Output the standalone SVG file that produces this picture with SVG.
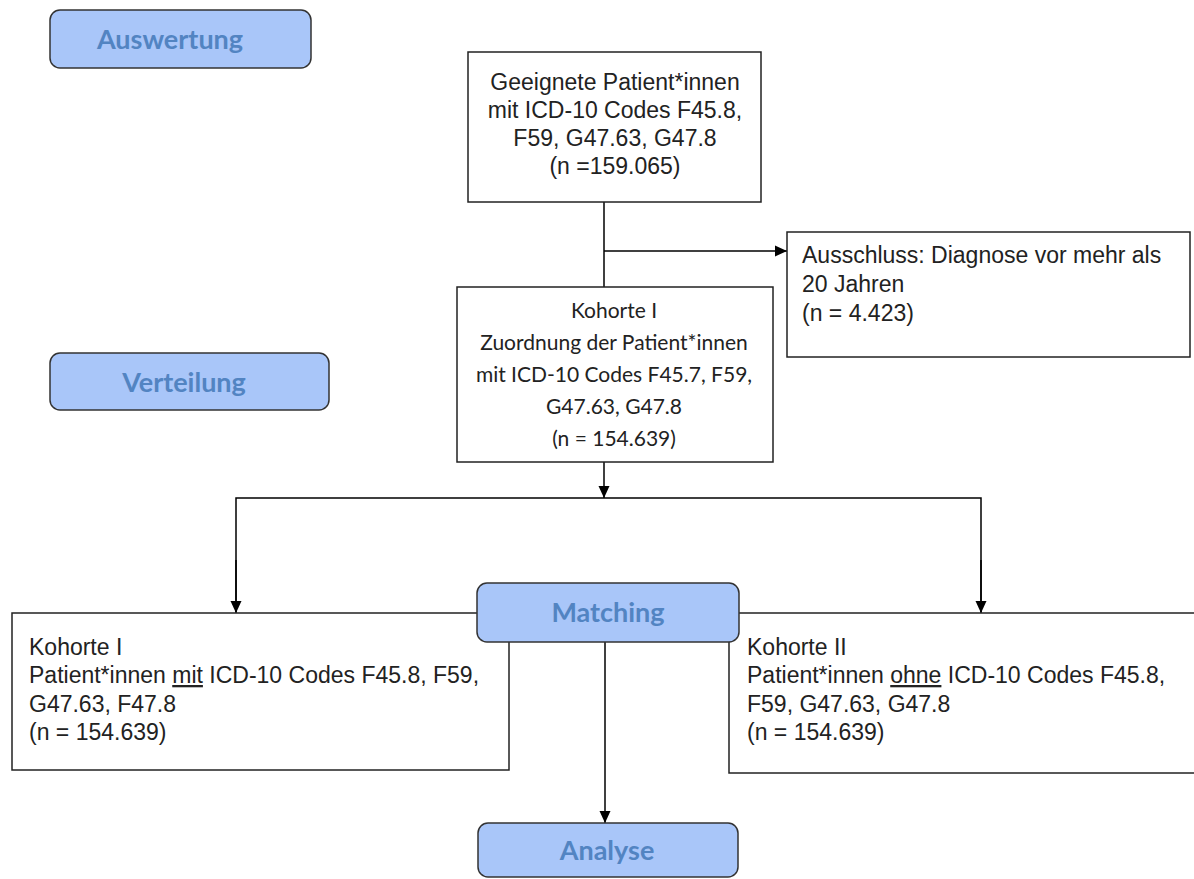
<svg xmlns="http://www.w3.org/2000/svg" width="1194" height="879" viewBox="0 0 1194 879">
<defs>
<marker id="ah" markerWidth="12" markerHeight="12" refX="12" refY="6" orient="auto" markerUnits="userSpaceOnUse">
<path d="M0,0.5 L12,6 L0,11.5 Z" fill="#000"/>
</marker>
<style>
.box{fill:#fff;stroke:#222;stroke-width:1.5}
.stage{fill:#a9c6f9;stroke:#333;stroke-width:1.5}
.stxt{font-family:Lato,"Liberation Sans",sans-serif;font-weight:bold;font-size:27px;fill:#5284c2;text-anchor:middle}
.t{font-family:"Liberation Sans",Arial,sans-serif;font-size:23px;fill:#222}
.c{text-anchor:middle}
.k{font-family:Lato,"Liberation Sans",sans-serif;font-size:21px;fill:#222;text-anchor:middle}
.ln{fill:none;stroke:#000;stroke-width:1.5}
</style>
</defs>
<rect width="1194" height="879" fill="#fff"/>

<g id="connectors">
<line class="ln" x1="604" y1="202" x2="604" y2="287"/>
<line class="ln" x1="604" y1="251" x2="787" y2="251" marker-end="url(#ah)"/>
<line class="ln" x1="604" y1="462" x2="604" y2="498" marker-end="url(#ah)"/>
<polyline class="ln" points="236,612 236,498 981,498 981,612"/>
<line class="ln" x1="236" y1="560" x2="236" y2="613" marker-end="url(#ah)"/>
<line class="ln" x1="981" y1="560" x2="981" y2="613" marker-end="url(#ah)"/>
<line class="ln" x1="605" y1="642" x2="605" y2="823" marker-end="url(#ah)"/>
</g>

<g id="auswertung">
<rect class="stage" x="50" y="10" width="261" height="58" rx="10"/>
<text class="stxt" x="170" y="49">Auswertung</text>
</g>

<g id="verteilung">
<rect class="stage" x="50" y="353" width="279" height="57" rx="10"/>
<text class="stxt" x="184" y="392">Verteilung</text>
</g>

<g id="geeignete">
<rect class="box" x="468" y="52" width="293" height="150"/>
<text class="t c" x="615" y="90">Geeignete Patient*innen</text>
<text class="t c" x="615" y="118">mit ICD-10 Codes F45.8,</text>
<text class="t c" x="615" y="146">F59, G47.63, G47.8</text>
<text class="t c" x="615" y="174">(n =159.065)</text>
</g>

<g id="ausschluss">
<rect class="box" x="787" y="232" width="403" height="125"/>
<text class="t" x="802" y="263">Ausschluss: Diagnose vor mehr als</text>
<text class="t" x="802" y="292">20 Jahren</text>
<text class="t" x="802" y="321">(n = 4.423)</text>
</g>

<g id="kohorte-zuordnung">
<rect class="box" x="457" y="287" width="316" height="175"/>
<text class="k" x="614" y="318">Kohorte I</text>
<text class="k" x="614" y="350">Zuordnung der Patient*innen</text>
<text class="k" x="614" y="382">mit ICD-10 Codes F45.7, F59,</text>
<text class="k" x="614" y="414">G47.63, G47.8</text>
<text class="k" x="614" y="446">(n = 154.639)</text>
</g>

<g id="kohorte1">
<rect class="box" x="12" y="613" width="497" height="157"/>
<text class="t" x="29" y="655">Kohorte I</text>
<text class="t" x="29" y="683">Patient*innen <tspan text-decoration="underline">mit</tspan> ICD-10 Codes F45.8, F59,</text>
<text class="t" x="29" y="712">G47.63, F47.8</text>
<text class="t" x="29" y="740">(n = 154.639)</text>
</g>

<g id="kohorte2">
<rect class="box" x="729" y="613" width="470" height="160"/>
<text class="t" x="747" y="655">Kohorte II</text>
<text class="t" x="747" y="683">Patient*innen <tspan text-decoration="underline">ohne</tspan> ICD-10 Codes F45.8,</text>
<text class="t" x="747" y="712">F59, G47.63, G47.8</text>
<text class="t" x="747" y="740">(n = 154.639)</text>
</g>

<g id="matching">
<rect class="stage" x="477" y="583" width="262" height="59" rx="10"/>
<text class="stxt" x="608" y="622">Matching</text>
</g>

<g id="analyse">
<rect class="stage" x="478" y="823" width="260" height="54" rx="10"/>
<text class="stxt" x="607" y="860">Analyse</text>
</g>
</svg>
